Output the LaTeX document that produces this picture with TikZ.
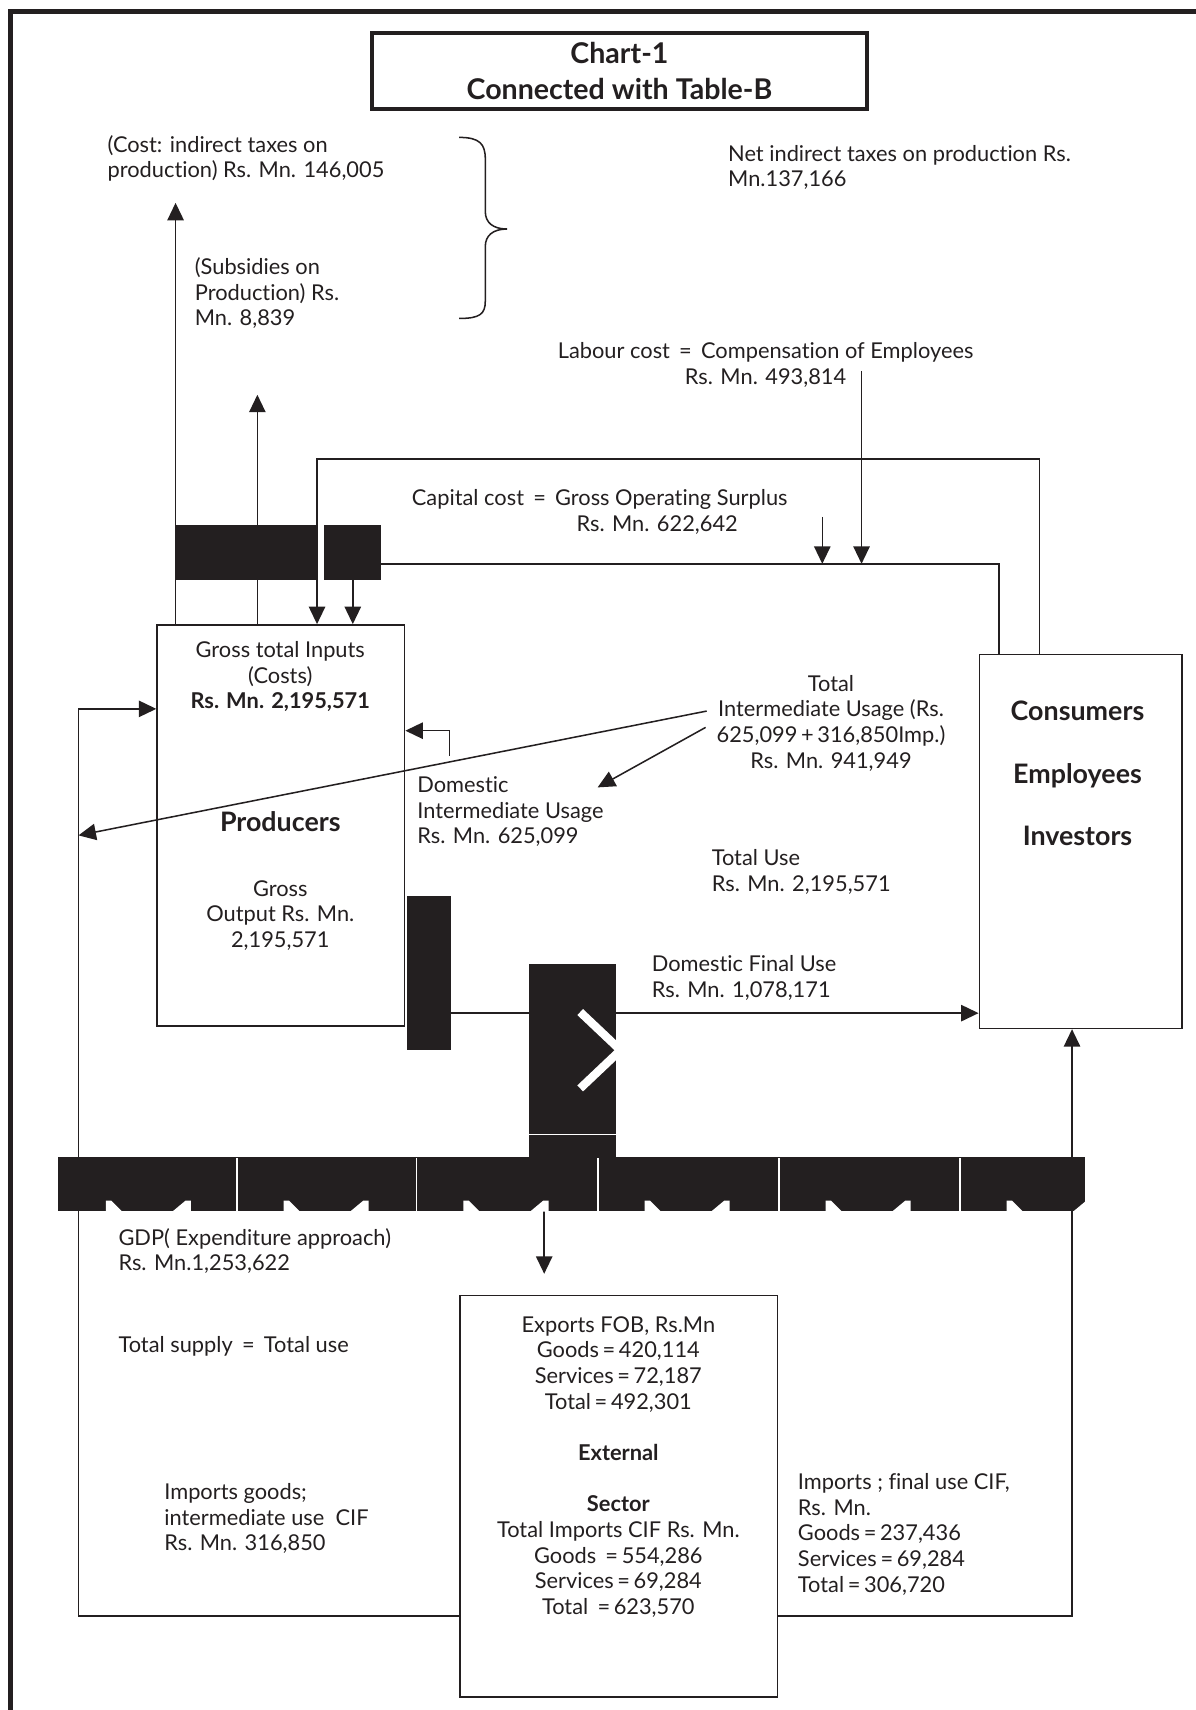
\documentclass[tikz,border=0pt]{standalone}
\usepackage{fontspec}
\setmainfont{Lato}[Ligatures=NoCommon]
\usetikzlibrary{arrows.meta,fit,calc}
\definecolor{ink}{HTML}{231F20}
\begin{document}
\begin{tikzpicture}[x=0.5pt,y=-0.5pt,color=ink,line width=0.7pt,
  >={Triangle[length=8pt,width=7.5pt]},
  box/.style={draw,inner sep=0pt},
  blk/.style={fill=ink,draw=none,inner sep=0pt},
  lbl/.style={inner sep=0pt,font=\fontsize{10}{11.75}\selectfont},
  bigb/.style={inner sep=0pt,font=\fontsize{12.3}{28.75}\selectfont\bfseries}]
\useasboundingbox (0,0) rectangle (1096,1568);
% outer frame
\draw[line width=2.3pt,line join=miter] (9.5,1600) -- (9.5,10.5) -- (1120,10.5);
% title
\node[draw,line width=2pt,minimum width=227pt,minimum height=35pt,inner sep=0pt,
  align=center,font=\fontsize{13.1}{16.5}\selectfont\bfseries] (title) at (568,65)
  {Chart-1\\Connected with Table-B};
% brace
\draw (421,126) .. controls (440,126) and (445,132) .. (445,146) -- (445,194)
  .. controls (445,204) and (452,210) .. (465,210)
  .. controls (452,210) and (445,216) .. (445,226) -- (445,276)
  .. controls (445,288) and (440,292) .. (421,292);
% boxes
\node[box,fit={(144,573)(371,941)}] (prod) {};
\node[box,fit={(898,600)(1084,943)}] (cons) {};
\node[box,fit={(422,1188)(713,1556)}] (ext) {};
% coordinates
\coordinate (taxtip) at (161,186);
\coordinate (subtip) at (236,362);
\coordinate (gosx) at (953,421);
\coordinate (coex) at (916,517);
\coordinate (labtop) at (790,340);
\coordinate (captop) at (754,474);
\coordinate (hook) at (412,693);
\coordinate (hookc) at (412,670);
\coordinate (tiu1) at (648,652);
\coordinate (tiu2) at (647,667);
\coordinate (leftin) at (72,766);
\coordinate (domtip) at (548,722);
\coordinate (lcorner) at (72,1482);
\coordinate (ltop) at (72,650);
\coordinate (rcorner) at (983,1482);
\coordinate (finy) at (450,929);
\coordinate (expt) at (499,1168);
% black blocks (positions only, filled later)
\path node[blk,fit={(161,482)(290,531)}] (bA) {}
      node[blk,fit={(298,482)(349,531)}] (bB) {}
      node[blk,fit={(374,822)(413,962)}] (bC) {}
      node[blk,fit={(486,885)(564,1039)}] (bD) {}
      node[blk,fit={(486,1041)(564,1062)}] (bE) {}
      node[blk,fit={(54,1062)(994,1110)}] (bar) {};
% connectors
\draw[->] (prod.north -| taxtip) -- (taxtip);
\draw[->] (prod.north -| subtip) -- (subtip);
\draw[->] (cons.north -| gosx) -- (gosx) -| (prod.north -| bA.east);
\draw (bB.east |- coex) -- (coex) -- (cons.north -| coex);
\draw[->] (bB.south) -- (prod.north -| bB.south);
\draw[->] (labtop) -- (labtop |- coex);
\draw[->] (captop) -- (captop |- coex);
\draw[->] (hook) -- (hookc) -- (prod.east |- hookc);
\draw[->] (tiu1) -- (leftin);
\draw[->] (tiu2) -- (domtip);
\draw[->] (ext.west |- lcorner) -- (lcorner) -- (ltop) -- (prod.west |- ltop);
\draw[->] (ext.east |- rcorner) -- (rcorner) -- (cons.south -| rcorner);
\draw (bC.east |- finy) -- (bD.west |- finy);
\draw[->] (bD.east |- finy) -- (cons.west |- finy);
\draw[->] (bar.south -| expt) -- (expt);
% black blocks on top
\fill[ink] (bA.north west) rectangle (bA.south east);
\fill[ink] (bB.north west) rectangle (bB.south east);
\fill[ink] (bC.north west) rectangle (bC.south east);
\fill[ink] (bD.north west) rectangle (bD.south east);
\fill[ink] (bE.north west) rectangle (bE.south east);
\fill[ink] (bar.north west) rectangle (bar.south east);
\begin{scope}
  \clip (bD.north west) rectangle (bD.south east);
  \draw[white,line width=3.8pt] (532,928) -- (569,963) -- (532,998);
\end{scope}
\foreach \s in {217,382,548,714,880}
  \draw[white,line width=0.8pt] (\s,1062) -- (\s,1110);
\begin{scope}
  \clip (bar.north west) rectangle (bar.south east);
  \foreach \s in {54,217,382,548,714,880} {
    \fill[white] (\s+43,1111) -- (\s+43,1101) -- (\s+48,1101) -- (\s+58,1111) -- cycle;
    \fill[white] (\s+121,1111) -- (\s+121,1101) -- (\s+116,1101) -- (\s+104,1111) -- cycle;
  }
\end{scope}
% texts
\node[lbl,anchor=north west,align=left] (tcost) at (98,123.5)
  {(Cost: indirect taxes on\\production) Rs. Mn. 146,005};
\node[lbl,anchor=north west,align=left] (tsub) at (178,235.5)
  {(Subsidies on\\Production) Rs.\\Mn. 8,839};
\node[lbl,anchor=north west,align=left] (tnet) at (667,132.5)
  {Net indirect taxes on production Rs.\\Mn.137,166};
\node[lbl,anchor=north,align=center] (tlab) at (702,313.5)
  {Labour cost \,=\, Compensation of Employees\\Rs. Mn. 493,814};
\node[lbl,anchor=north west,align=left] (tcap) at (377,448.5)
  {Capital cost \,=\, Gross Operating Surplus\\\hspace*{75.5pt}Rs. Mn. 622,642};
\node[lbl,anchor=north,align=center] (tin) at (257,587.5)
  {Gross total Inputs\\(Costs)\\\textbf{Rs. Mn. 2,195,571}};
\node[inner sep=0pt,font=\fontsize{12.3}{14}\selectfont\bfseries] (tprod) at (257,753) {Producers};
\node[lbl,anchor=north,align=center] (tout) at (257,806.5)
  {Gross\\Output Rs. Mn.\\2,195,571};
\node[lbl,anchor=north,align=center] (ttiu) at (762,618.5)
  {Total\\Intermediate Usage (Rs.\\625,099\,+\,316,850Imp.)\\Rs. Mn. 941,949};
\node[lbl,anchor=north west,align=left] (tdiu) at (382,711.5)
  {Domestic\\Intermediate Usage\\Rs. Mn. 625,099};
\node[lbl,anchor=north west,align=left] (tuse) at (652,778.5)
  {Total Use\\Rs. Mn. 2,195,571};
\node[lbl,anchor=north west,align=left] (tdfu) at (597,875.5)
  {Domestic Final Use\\Rs. Mn. 1,078,171};
\node[bigb,anchor=north,align=center] (tcons) at (988,642)
  {Consumers\\Employees\\Investors};
\node[lbl,anchor=north west,align=left] (tgdp) at (108,1125.5)
  {GDP( Expenditure approach)\\Rs. Mn.1,253,622};
\node[lbl,anchor=north west,align=left] (tsup) at (108,1224.5)
  {Total supply \,=\, Total use};
\node[lbl,anchor=north west,align=left] (timpi) at (150,1359.5)
  {Imports goods;\\intermediate use\ \ CIF\\Rs. Mn. 316,850};
\node[lbl,anchor=north west,align=left] (timpf) at (731,1350.5)
  {Imports ; final use CIF,\\Rs. Mn.\\Goods\,=\,237,436\\Services\,=\,69,284\\Total\,=\,306,720};
\node[lbl,anchor=north,align=center] (text) at (567,1206.5)
  {Exports FOB, Rs.Mn\\Goods\,=\,420,114\\Services\,=\,72,187\\Total\,=\,492,301\\[11.75pt]
   \textbf{External}\\[11.75pt]\textbf{Sector}\\Total Imports CIF Rs. Mn.\\
   Goods \,=\,554,286\\Services\,=\,69,284\\Total \,=\,623,570};
\end{tikzpicture}
\end{document}
